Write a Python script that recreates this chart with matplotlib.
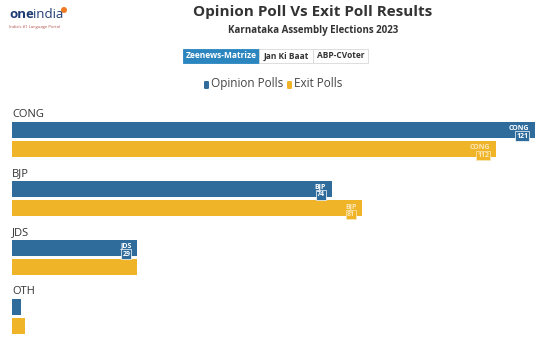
import matplotlib.pyplot as plt
from matplotlib.patches import Rectangle, FancyBboxPatch, Ellipse

plt.rcParams["font.family"] = ["Open Sans", "DejaVu Sans"]

parties = ["CONG", "BJP", "JDS", "OTH"]
opinion = [121, 74, 29, 2]
exit_polls = [112, 81, 29, 3]
# which bars carry an end label (opinion, exit)
labelled = [(True, True), (True, True), (True, False), (False, False)]
tabs = ["Zeenews-Matrize", "Jan Ki Baat", "ABP-CVoter"]

BLUE = "#2f6c9c"
YELLOW = "#f0b429"

W, H = 554, 338
fig = plt.figure(figsize=(W / 100, H / 100), dpi=100)

# chart area: x from 12px to 535px, y in pixel units (top down)
ax = fig.add_axes([12 / W, 0, (535 - 12) / W, 1])
ax.set_xlim(0, max(opinion))
ax.set_ylim(H, 0)
ax.axis("off")

bar_h = 16
for i, party in enumerate(parties):
    y_op = 129.5 + 59 * i
    y_ex = y_op + 19.5
    ax.barh(y_op, opinion[i], height=bar_h, color=BLUE)
    ax.barh(y_ex, exit_polls[i], height=bar_h, color=YELLOW)
    ax.text(0, y_op - 15, party, fontsize=8, color="#333333", va="center", ha="left")
    specs = [(opinion[i], y_op, BLUE, "white", labelled[i][0]),
             (exit_polls[i], y_ex, YELLOW, "#fbe8b8", labelled[i][1])]
    for val, yc, col, tcol, show in specs:
        if not show:
            continue
        ax.text(val - 1.3, yc - 1.5, party, fontsize=5, fontweight="bold",
                color=tcol, ha="right", va="center")
        ax.text(val - 1.6, yc + 6.5, str(val), fontsize=5, fontweight="bold",
                color=tcol, ha="right", va="center",
                bbox=dict(boxstyle="square,pad=0.15", fc=col, ec=tcol, lw=0.5))


# header in figure pixel coordinates
def fx(x):
    return x / W


def fy(y):
    return 1 - y / H


fig.text(fx(9), fy(15), "one", fontsize=9.5, color="#1f3b73", fontweight="bold",
         va="center", ha="left")
fig.text(fx(33), fy(15), "india", fontsize=9.5, color="#1f3b73", va="center", ha="left")
fig.patches.append(Ellipse((fx(64), fy(10)), fx(6), 6 / H, transform=fig.transFigure,
                           fc="#f07a22", ec="none"))
fig.text(fx(9), fy(27), "India's #1 Language Portal", fontsize=3, color="#b0504a",
         va="center", ha="left")

fig.text(fx(313), fy(12), "Opinion Poll Vs Exit Poll Results", fontsize=11,
         fontweight="bold", color="#333333", ha="center", va="center")
fig.text(fx(313), fy(31), "Karnataka Assembly Elections 2023", fontsize=7,
         fontweight="bold", color="#333333", ha="center", va="center")

tab_x = [183, 259, 313, 368]
for j, t in enumerate(tabs):
    x0, x1 = tab_x[j], tab_x[j + 1]
    sel = j == 0
    fig.patches.append(Rectangle((fx(x0), fy(63)), fx(x1 - x0), (63 - 49) / H,
                                 transform=fig.transFigure,
                                 fc="#2b86bf" if sel else "white",
                                 ec="#2b86bf" if sel else "#d8d8d8", lw=0.6))
    fig.text(fx((x0 + x1) / 2), fy(56), t, fontsize=6, fontweight="bold",
             color="white" if sel else "#333333", ha="center", va="center")

# legend
fig.patches.append(FancyBboxPatch((fx(204), fy(89)), fx(5), 8 / H,
                                  boxstyle="round,pad=0,rounding_size=0.003",
                                  transform=fig.transFigure, fc=BLUE, ec="none"))
fig.text(fx(211), fy(84), "Opinion Polls", fontsize=8.5, color="#444444",
         ha="left", va="center")
fig.patches.append(FancyBboxPatch((fx(287), fy(89)), fx(5), 8 / H,
                                  boxstyle="round,pad=0,rounding_size=0.003",
                                  transform=fig.transFigure, fc=YELLOW, ec="none"))
fig.text(fx(294), fy(84), "Exit Polls", fontsize=8.5, color="#444444",
         ha="left", va="center")

fig.savefig("out.png", dpi=100)
